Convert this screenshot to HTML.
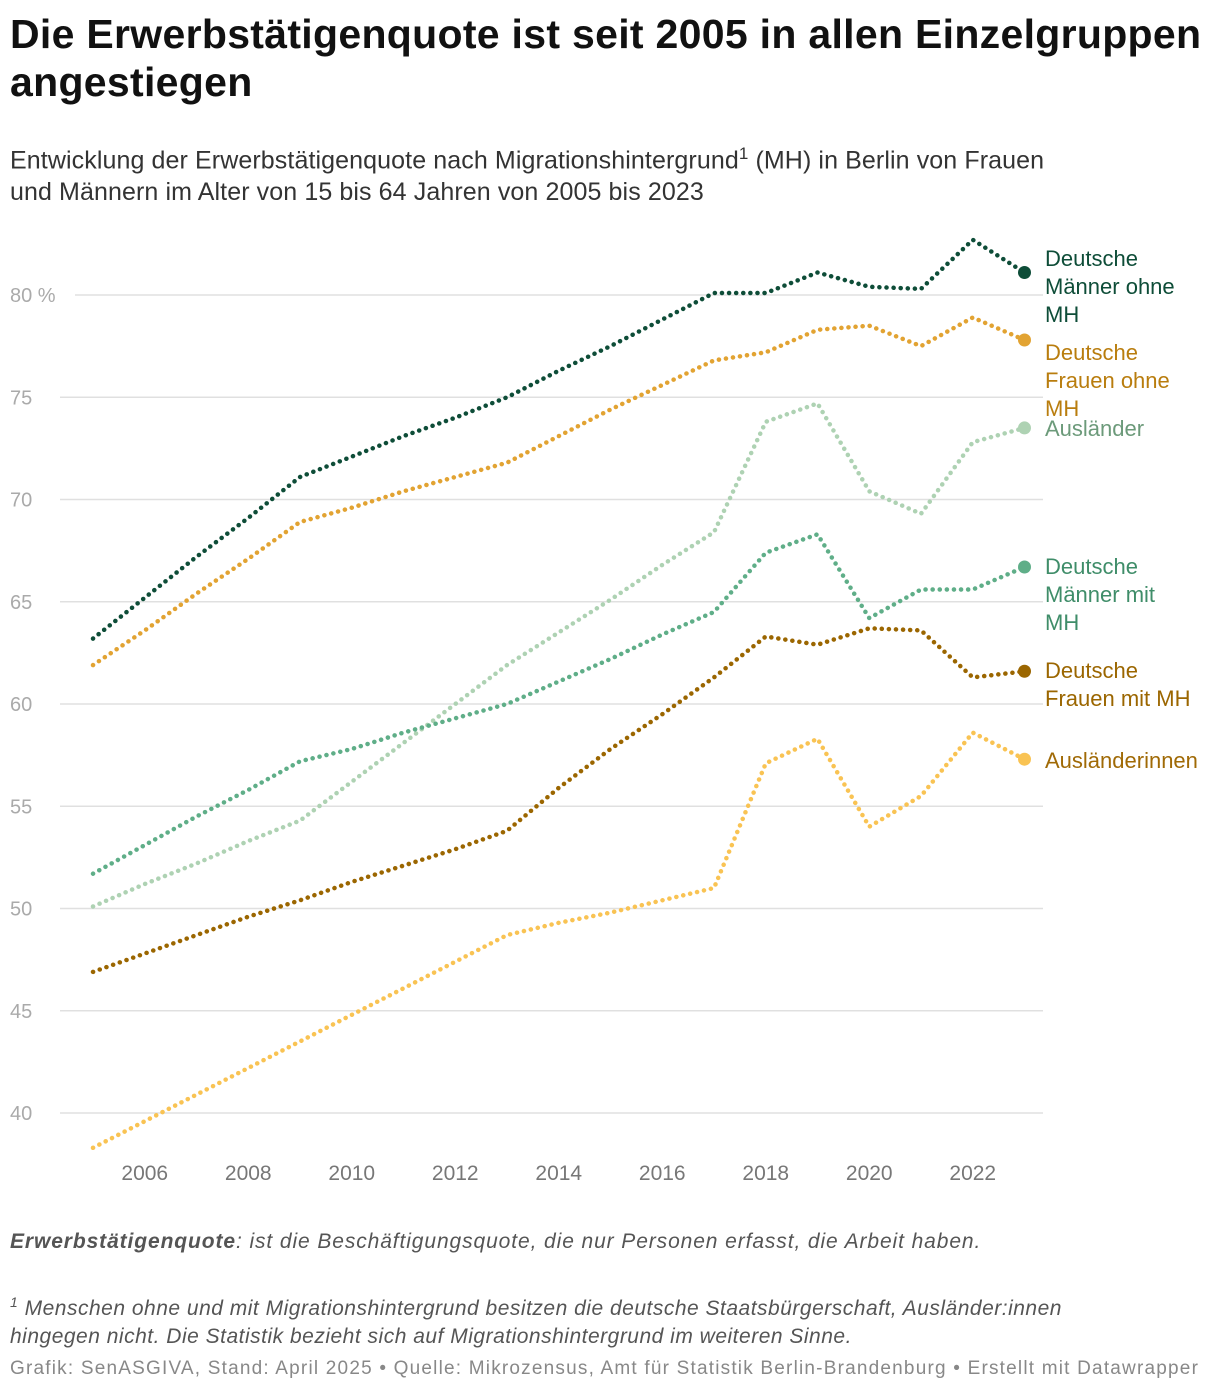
<!DOCTYPE html>
<html><head><meta charset="utf-8">
<style>
body{margin:0;background:#fff;font-family:"Liberation Sans",sans-serif;}
#wrap{position:relative;width:1220px;height:1392px;overflow:hidden;}
h1{position:absolute;left:10px;top:10px;margin:0;font-size:41px;line-height:48px;font-weight:bold;color:#111;width:1210px;letter-spacing:0.3px;}
.sub{position:absolute;left:10px;top:138px;font-size:25px;line-height:32px;color:#333;width:1075px;letter-spacing:0.1px;}
.foot{position:absolute;left:10px;font-size:21px;color:#555;font-style:italic;line-height:28px;letter-spacing:0.5px;}
</style></head><body>
<div id="wrap">
<h1>Die Erwerbstätigenquote ist seit 2005 in allen Einzelgruppen angestiegen</h1>
<div class="sub">Entwicklung der Erwerbstätigenquote nach Migrationshintergrund<sup style="font-size:17px">1</sup> (MH) in Berlin von Frauen und Männern im Alter von 15 bis 64 Jahren von 2005 bis 2023</div>
<svg id="chart" width="1220" height="1392" style="position:absolute;left:0;top:0"></svg>
<div class="foot" style="top:1228px;letter-spacing:0.9px"><b>Erwerbstätigenquote</b>: ist die Beschäftigungsquote, die nur Personen erfasst, die Arbeit haben.</div>
<div class="foot" style="top:1288px;width:1140px"><sup style="font-size:14px">1</sup> Menschen ohne und mit Migrationshintergrund besitzen die deutsche Staatsbürgerschaft, Ausländer:innen hingegen nicht. Die Statistik bezieht sich auf Migrationshintergrund im weiteren Sinne.</div>
<div class="foot" style="top:1355px;font-size:19px;font-style:normal;color:#888;letter-spacing:1.2px;white-space:nowrap">Grafik: SenASGIVA, Stand: April 2025 • Quelle: Mikrozensus, Amt für Statistik Berlin-Brandenburg • Erstellt mit Datawrapper</div>
</div>
<script>
const years=[2005,2006,2007,2008,2009,2010,2011,2012,2013,2014,2015,2016,2017,2018,2019,2020,2021,2022,2023];
const yTicks=[40,45,50,55,60,65,70,75,80];
const xTicks=[2006,2008,2010,2012,2014,2016,2018,2020,2022];
const maennerOhneMH=[63.2,65.2,67.2,69.1,71.1,72.1,73.1,74.0,75.0,76.3,77.5,78.8,80.1,80.1,81.1,80.4,80.3,82.7,81.1];
const frauenOhneMH=[61.9,63.6,65.4,67.1,68.9,69.6,70.4,71.1,71.8,73.1,74.4,75.6,76.8,77.2,78.3,78.5,77.5,78.9,77.8];
const auslaender=[50.1,51.2,52.2,53.3,54.3,56.2,58.1,60.0,61.9,63.5,65.1,66.8,68.4,73.8,74.7,70.4,69.3,72.8,73.5];
const maennerMitMH=[51.7,53.1,54.5,55.8,57.2,57.8,58.6,59.3,60.0,61.1,62.2,63.4,64.5,67.4,68.3,64.2,65.6,65.6,66.7];
const frauenMitMH=[46.9,47.8,48.7,49.6,50.4,51.3,52.1,52.9,53.8,55.9,57.8,59.5,61.3,63.3,62.9,63.7,63.6,61.3,61.6];
const auslaenderinnen=[38.3,39.6,40.9,42.2,43.5,44.8,46.1,47.4,48.7,49.3,49.8,50.4,51.0,57.1,58.3,54.0,55.5,58.6,57.3];
const series=[
 {name:'maenner-ohne-mh',v:maennerOhneMH,c:'#0e4d38',lc:'#0e4d38',lab:['Deutsche','Männer ohne','MH'],ly:258},
 {name:'frauen-ohne-mh',v:frauenOhneMH,c:'#e2a332',lc:'#b97d0e',lab:['Deutsche','Frauen ohne','MH'],ly:352},
 {name:'auslaender',v:auslaender,c:'#aed2b3',lc:'#6c9a7a',lab:['Ausländer'],ly:428},
 {name:'maenner-mit-mh',v:maennerMitMH,c:'#5fae88',lc:'#3f8d69',lab:['Deutsche','Männer mit','MH'],ly:566},
 {name:'frauen-mit-mh',v:frauenMitMH,c:'#9b6600',lc:'#9b6600',lab:['Deutsche','Frauen mit MH'],ly:670},
 {name:'auslaenderinnen',v:auslaenderinnen,c:'#f9c353',lc:'#a06a06',lab:['Ausländerinnen'],ly:760}
];
const X=y=>93+(y-2005)*51.75;
const Y=v=>1113-(v-40)*20.45;
const svg=document.getElementById('chart');
const NS='http://www.w3.org/2000/svg';
function mk(t,a){const e=document.createElementNS(NS,t);for(const k in a)e.setAttribute(k,a[k]);svg.appendChild(e);return e;}
yTicks.forEach(t=>{
 const l=mk('line',{x1:t===80?75:60,x2:1043,y1:Y(t),y2:Y(t),stroke:'#e0e0e0','stroke-width':1.5});
 
 
 const tx=mk('text',{x:10,y:Y(t)+7,'font-size':20,fill:'#aaa'});
 tx.textContent=t===80?'80 %':String(t);
 
 
});
xTicks.forEach(t=>{
 const tx=mk('text',{x:X(t),y:1180,'font-size':21,fill:'#777','text-anchor':'middle'});
 tx.textContent=t;
 
 
});
series.forEach(s=>{
 const d=s.v.map((v,i)=>(i?'L':'M')+X(years[i]).toFixed(1)+','+Y(v).toFixed(1)).join('');
 const p=mk('path',{d:d,fill:'none',stroke:s.c,'stroke-width':4.5,'stroke-dasharray':'0.1 7','stroke-linecap':'round','stroke-linejoin':'round'});
 
 
 const last=s.v[s.v.length-1];
 const c=mk('circle',{cx:X(2023),cy:Y(last),r:6.5,fill:s.c});
 
 
 const t=mk('text',{x:1045,y:s.ly+8,'font-size':22,fill:s.lc});
 
 
 s.lab.forEach((ln,i)=>{const ts=document.createElementNS(NS,'tspan');ts.setAttribute('x',1045);ts.setAttribute('dy',i?28:0);ts.textContent=ln;t.appendChild(ts);});
});
</script>
</body></html>
